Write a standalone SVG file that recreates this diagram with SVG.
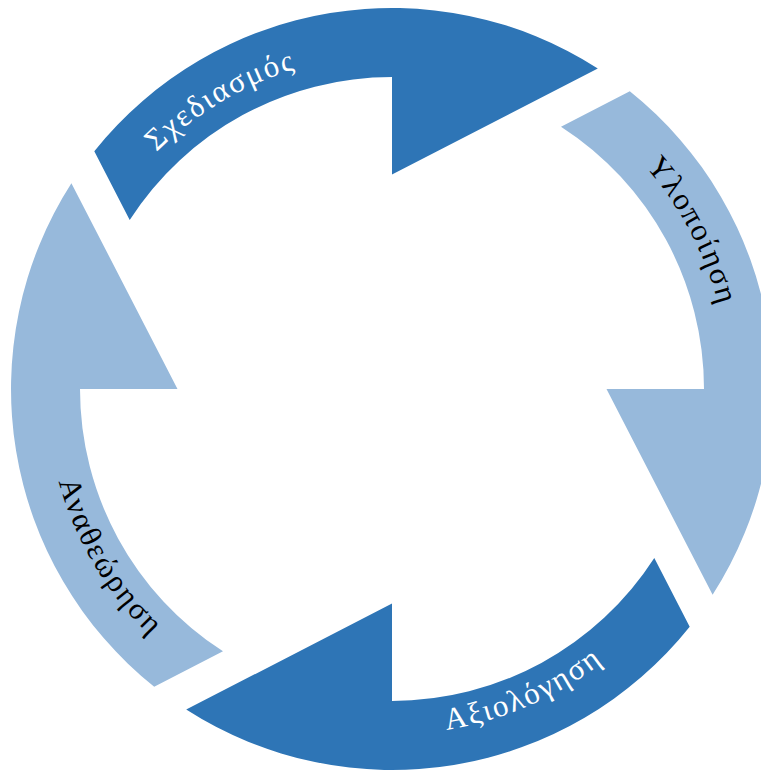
<svg xmlns="http://www.w3.org/2000/svg" xmlns:xlink="http://www.w3.org/1999/xlink" width="761" height="770" viewBox="0 0 761 770">
<style>
.dark{fill:#2E75B6}
.light{fill:#97B9DB}
.lbl{font-family:"Liberation Serif","Times New Roman",serif;font-size:31px;letter-spacing:2px}
.w{fill:#FFFFFF}
.b{fill:#000000}
</style>
<defs>
<path id="seg" d="M -297.7 -237.8 A 381 381 0 0 1 205.8 -320.6 L 0 -214.5 L 0 -312 A 312 312 0 0 0 -262.3 -169 Z"/>
<path id="cw1" d="M 78.1 274.8 A 334 334 0 0 1 705.9 274.8" fill="none"/>
<path id="cw2" d="M 75.3 273.7 A 337 337 0 0 1 708.7 273.7" fill="none"/>
<path id="ccw1" d="M 67.8 507 A 345 345 0 0 0 716.2 507" fill="none"/>
<path id="ccw2" d="M 66.9 507.3 A 346 346 0 0 0 717.1 507.3" fill="none"/>
</defs>
<rect width="761" height="770" fill="#FFFFFF"/>
<g id="connectors"/>
<g id="node-schediasmos">
<use href="#seg" xlink:href="#seg" class="dark" transform="translate(392 389)"/>
<text class="lbl w" text-anchor="middle" transform="rotate(-30.7 392 389)"><textPath href="#cw1" xlink:href="#cw1" startOffset="50%">Σχεδιασμός</textPath></text>
</g>
<g id="node-ylopoiisi">
<use href="#seg" xlink:href="#seg" class="light" transform="translate(392 389) rotate(90)"/>
<text class="lbl b" text-anchor="middle" transform="rotate(62.3 392 389)"><textPath href="#cw2" xlink:href="#cw2" startOffset="50%">Υλοποίηση</textPath></text>
</g>
<g id="node-axiologisi">
<use href="#seg" xlink:href="#seg" class="dark" transform="translate(392 389) rotate(180)"/>
<text class="lbl w" text-anchor="middle" transform="rotate(-23.5 392 389)"><textPath href="#ccw1" xlink:href="#ccw1" startOffset="50%">Αξιολόγηση</textPath></text>
</g>
<g id="node-anatheorisi">
<use href="#seg" xlink:href="#seg" class="light" transform="translate(392 389) rotate(270)"/>
<text class="lbl b" text-anchor="middle" transform="rotate(59.3 392 389)"><textPath href="#ccw2" xlink:href="#ccw2" startOffset="50%">Αναθεώρηση</textPath></text>
</g>
</svg>
